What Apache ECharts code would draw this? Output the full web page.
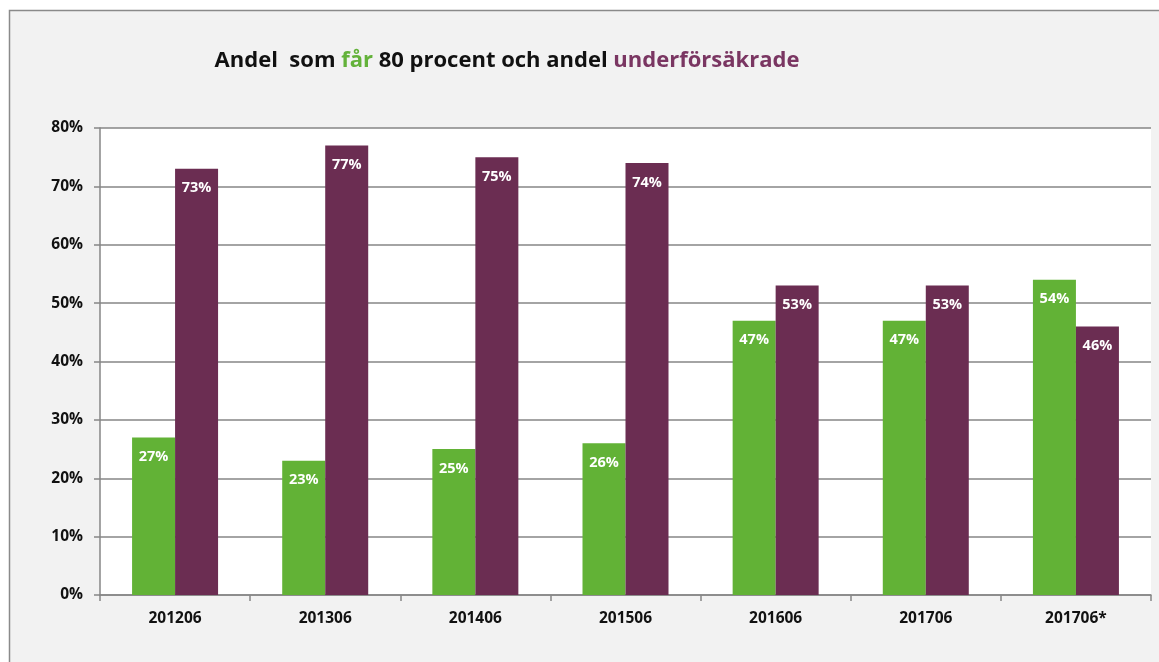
<!DOCTYPE html>
<html><head><meta charset="utf-8">
<script src="https://cdn.jsdelivr.net/npm/echarts@6/dist/echarts.min.js"></script>
<style>html,body{margin:0;padding:0;background:#fff;}#c{width:1159px;height:662px;}</style>
</head><body><div id="c"></div>
<script>
const categories = ['201206','201306','201406','201506','201606','201706','201706*'];
const farValues = [27, 23, 25, 26, 47, 47, 54];
const underValues = [73, 77, 75, 74, 53, 53, 46];
const yTicks = [0, 10, 20, 30, 40, 50, 60, 70, 80];

const font = 'Open Sans, Liberation Sans, sans-serif';
const chart = echarts.init(document.getElementById('c'));
chart.setOption({
  animation: false,
  graphic: [{
    type: 'rect', z: -10, silent: true,
    shape: { x: 9.5, y: 10.5, width: 1200, height: 700 },
    style: { fill: '#f2f2f2', stroke: '#8a8a8a', lineWidth: 1.5 }
  }, {
    type: 'rect', z: -9, silent: true,
    shape: { x: 100, y: 128, width: 1051, height: 467 },
    style: { fill: '#ffffff' }
  }],
  title: {
    text: '{b|Andel  som }{g|får}{b| 80 procent och andel }{p|underförsäkrade}',
    left: 502, top: 45, textAlign: 'center',
    textStyle: {
      rich: {
        b: { fontFamily: font, fontWeight: 'bold', fontSize: 22, color: '#111' },
        g: { fontFamily: font, fontWeight: 'bold', fontSize: 22, color: '#63b23a' },
        p: { fontFamily: font, fontWeight: 'bold', fontSize: 22, color: '#7a3662' }
      }
    }
  },
  grid: { left: 100, right: 8, top: 128, bottom: 67 },
  xAxis: {
    type: 'category', data: categories,
    axisLine: { lineStyle: { color: '#868686', width: 1.5 } },
    axisTick: { show: true, length: 6, lineStyle: { color: '#868686', width: 1.5 } },
    axisLabel: { color: '#111', fontWeight: 'bold', fontSize: 15.5, fontFamily: font, margin: 16 }
  },
  yAxis: {
    type: 'value', min: yTicks[0], max: yTicks[yTicks.length - 1], interval: 10,
    axisLine: { show: true, lineStyle: { color: '#868686', width: 1.5 } },
    axisTick: { show: true, length: 6, lineStyle: { color: '#868686', width: 1.5 } },
    splitLine: { lineStyle: { color: '#868686', width: 1.5 } },
    axisLabel: { formatter: '{value}%', color: '#111', fontWeight: 'bold', fontSize: 15.5, fontFamily: font, margin: 17 }
  },
  series: [{
    name: 'får 80 procent', type: 'bar', data: farValues, barWidth: 43, barGap: '0%',
    itemStyle: { color: '#62b236' },
    label: { show: true, position: 'insideTop', distance: 12, formatter: '{c}%', color: '#fff', fontWeight: 'bold', fontSize: 14.5, fontFamily: font }
  }, {
    name: 'underförsäkrade', type: 'bar', data: underValues, barWidth: 43,
    itemStyle: { color: '#6b2d52' },
    label: { show: true, position: 'insideTop', distance: 12, formatter: '{c}%', color: '#fff', fontWeight: 'bold', fontSize: 14.5, fontFamily: font }
  }]
});
</script></body></html>
